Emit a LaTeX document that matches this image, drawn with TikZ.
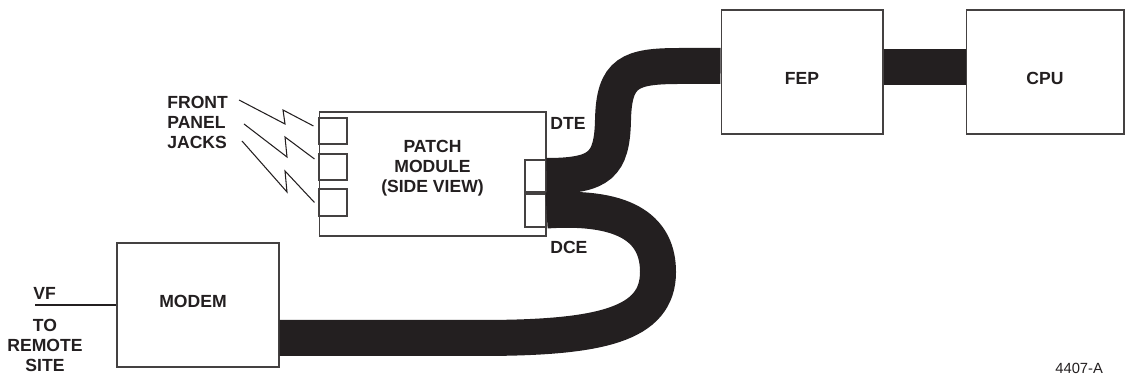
\documentclass[tikz,border=0pt]{standalone}
\usepackage{fontspec}
\setmainfont{Liberation Sans}
\usetikzlibrary{calc}
\definecolor{ink}{HTML}{231F20}
\tikzset{
  unit/.style={draw=ink!85,line width=0.6pt,inner sep=0pt},
  lbl/.style={font=\bfseries\fontsize{10}{11.4}\selectfont,text=ink,inner sep=0pt},
  cable/.style={draw=ink,line width=0.72cm,line cap=butt},
  spark/.style={draw=ink,line width=0.6pt}
}

\begin{document}
\begin{tikzpicture}[x=0.02cm,y=-0.02cm]
  \useasboundingbox (0,0) rectangle (1125,377);
  \node[unit,minimum width=4.54cm,minimum height=2.48cm,
    label={[lbl,align=center,yshift=0.12cm]center:PATCH\\MODULE\\(SIDE VIEW)}] (patch) at (432.5,174) {};
  \node[unit,minimum width=0.56cm,minimum height=0.52cm] (jackA) at (333,131) {};
  \node[unit,minimum width=0.56cm,minimum height=0.52cm] (jackB) at (333,167) {};
  \node[unit,minimum width=0.56cm,minimum height=0.54cm] (jackC) at (333,202.5) {};
  \node[unit,minimum width=0.42cm,minimum height=0.64cm] (dtejack) at (535.5,176) {};
  \node[unit,minimum width=0.42cm,minimum height=0.66cm] (dcejack) at (535.5,210.5) {};
  \node[unit,minimum width=3.24cm,minimum height=2.48cm,
    label={[lbl,yshift=-0.12cm]center:FEP}] (fep) at (802,72) {};
  \node[unit,minimum width=3.16cm,minimum height=2.48cm,
    label={[lbl,yshift=-0.12cm]center:CPU}] (cpu) at (1045,72) {};
  \node[unit,minimum width=3.24cm,minimum height=2.48cm,
    label={[lbl,xshift=-0.1cm,yshift=0.08cm]center:MODEM}] (modem) at (198,305) {};

  \draw[cable] (dtejack.east) .. controls (600,176) and (612,165) .. (613,120)
    .. controls (614,72) and (630,66) .. (680,66) -- ([yshift=0.12cm]fep.west);
  \draw[cable] (dcejack.east) .. controls (630,205) and (658,232) .. (658,272)
    .. controls (658,325) and (600,338) .. (480,338) -- ([yshift=-0.66cm]modem.east);
  \draw[cable] ([yshift=0.1cm]fep.east) -- ([yshift=0.1cm]cpu.west);

  \draw[spark] (239,100) -- (285,124) -- (283,110) -- ($(jackA.west)+(-5,-5)$);
  \draw[spark] (244,124) -- (287,157) -- (285,137) -- ($(jackB.west)+(-4,-8)$);
  \draw[spark] (242,141) -- (287,192) -- (285,171) -- ($(jackC.west)+(-4,0)$);

  \node[lbl,anchor=west,align=left] (jacklbl) at (167,122) {FRONT\\PANEL\\JACKS};
  \node[lbl,anchor=west] (dtelbl) at (550,123) {DTE};
  \node[lbl,anchor=west] (dcelbl) at (550,247) {DCE};
  \node[lbl,anchor=west] (vflbl) at (33,293) {VF};
  \node[lbl,align=center] (remote) at (45,345) {TO\\REMOTE\\SITE};
  \coordinate (vfend) at (35,305);
  \draw[spark] (vfend) -- (modem.west);
  \node[font=\fontsize{8.4}{10}\selectfont,text=ink,anchor=west,inner sep=0pt] (figno) at (1055,368) {4407-A};
\end{tikzpicture}
\end{document}
